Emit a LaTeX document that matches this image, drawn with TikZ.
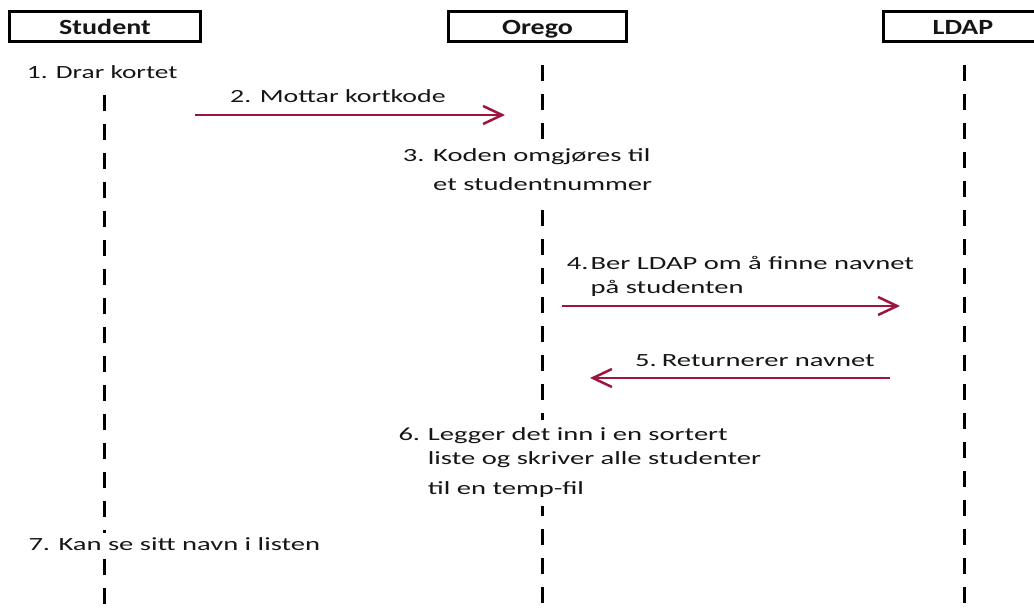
\documentclass[tikz,border=0pt]{standalone}
\usepackage{fontspec}
\setmainfont{Carlito}
\usetikzlibrary{arrows.meta}
\definecolor{msg}{RGB}{158,20,62}
\definecolor{ink}{RGB}{22,22,22}
% wide, stretched lettering
\newcommand\wide[2][1.536]{\scalebox{#1}[1]{#2}}
\newcommand\widehead[1]{\scalebox{1.29}[1]{#1}}

\begin{document}
\begin{tikzpicture}[x=1pt,y=-1pt,
  actor/.style={draw, line width=3pt, minimum height=29.7pt, inner sep=0pt,
    text height=17.3pt, text depth=0pt, text=ink,
    font=\fontsize{21.7}{26}\selectfont\bfseries},
  lifeline/.style={line width=3pt, dash pattern=on 16pt off 13pt},
  msgtxt/.style={anchor=base west, inner xsep=0pt, inner ysep=4pt, fill=white,
    text=ink, font=\fontsize{18.6}{24}\selectfont},
  msgarrow/.style={draw=msg, line width=2.5pt,
    -{Straight Barb[length=19pt,width=18pt]}}
]
\useasboundingbox (0,0) rectangle (1034,610);

% participants
\node[actor, minimum width=190.4pt] (student) at (105,26.35) {\widehead{Student}};
\node[actor, minimum width=178.6pt] (orego)   at (537.5,26.35) {\widehead{Orego}};
\node[actor, minimum width=159pt]   (ldap)    at (963,26.35) {\widehead{LDAP}};

% lifelines
\coordinate (sTop) at (104.3,95);  \coordinate (sBot) at (104.3,625);
\coordinate (oTop) at (542.7,65);  \coordinate (oBot) at (542.7,625);
\coordinate (lTop) at (964.3,65);  \coordinate (lBot) at (964.3,625);
\draw[lifeline] (sTop) -- (sBot);
\draw[lifeline] (oTop) -- (oBot);
\draw[lifeline] (lTop) -- (lBot);

% steps
\node[msgtxt] (m1) at (26.7,78.3) {\wide[1.47]{1. Drar kortet}};
\node[msgtxt] (m2) at (230,102.7) {\wide[1.50]{2. Mottar kortkode}};

\node[msgtxt] (n3) at (402.7,161) {\wide{3.}};
\node[msgtxt] (m3) at (433,161) {\wide{\begin{tabular}[t]{@{}l@{}}Koden omgjøres til\\[5pt]et studentnummer\end{tabular}}};

\node[msgtxt] (n4) at (566.7,269.3) {\wide{4.}};
\node[msgtxt] (m4) at (590.5,269.3) {\wide{\begin{tabular}[t]{@{}l@{}}Ber LDAP om å finne navnet\\på studenten\end{tabular}}};

\node[msgtxt] (n5) at (635,366.7) {\wide{5.}};
\node[msgtxt] (m5) at (661.7,366.7) {\wide{Returnerer navnet}};

\node[msgtxt] (n6) at (398.3,440.7) {\wide{6.}};
\node[msgtxt] (m6) at (427.7,440.7) {\wide{\begin{tabular}[t]{@{}l@{}}Legger det inn i en sortert\\liste og skriver alle studenter\\[6pt]til en temp-fil\end{tabular}}};

\node[msgtxt] (n7) at (28.3,550) {\wide{7.}};
\node[msgtxt] (m7) at (58.3,550) {\wide{Kan se sitt navn i listen}};

% messages
\coordinate (a2s) at (195,115);  \coordinate (a2e) at (505,115);
\coordinate (a4s) at (562,306);  \coordinate (a4e) at (900,306);
\coordinate (a5s) at (890,378);  \coordinate (a5e) at (590,378);
\draw[msgarrow] (a2s) -- (a2e);
\draw[msgarrow] (a4s) -- (a4e);
\draw[msgarrow] (a5s) -- (a5e);
\end{tikzpicture}
\end{document}
